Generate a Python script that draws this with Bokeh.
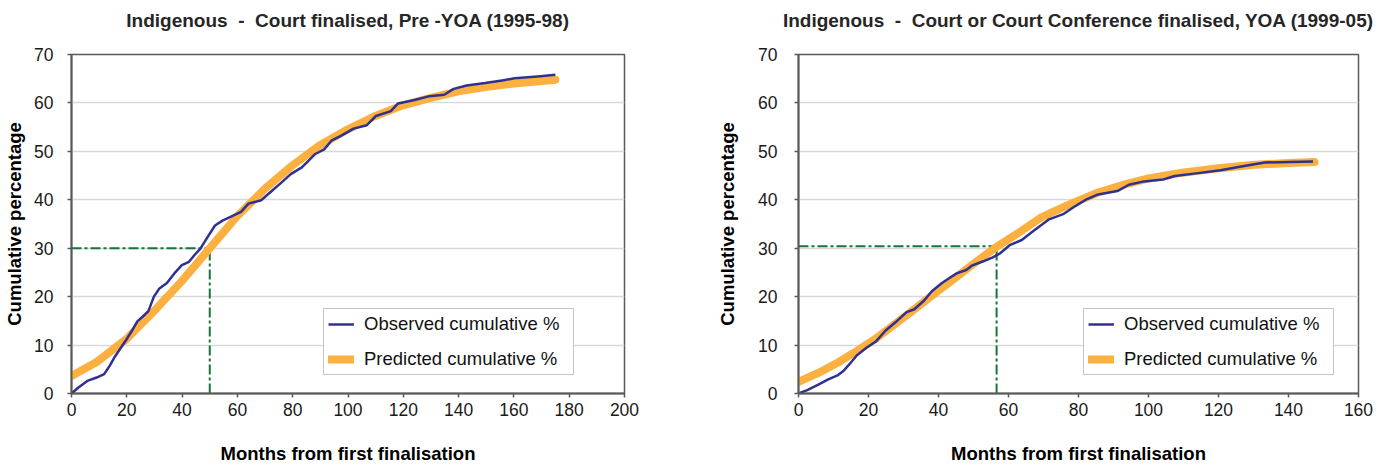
from bokeh.plotting import figure
from bokeh.layouts import row
from bokeh.models import FixedTicker, Title
from bokeh.embed import file_html
from bokeh.resources import INLINE

# ---------------- data: left chart (Pre-YOA 1995-98) ----------------
left_title = "Indigenous \u00a0-\u00a0 Court finalised, Pre -YOA (1995-98)"
left_obs_month = [0, 2.4, 5.7, 9.1, 11.8, 13.8, 15.8, 17.8, 19.8, 21.8, 23.8, 25.8, 27.8,
                  29.8, 31.8, 34.5, 37.2, 39.9, 42.5, 44.5, 46.6, 49.2, 51.9, 54.6, 57.3,
                  61.3, 64, 68.6, 72, 76, 79.3, 83.3, 88, 91.4, 94, 97.4, 102, 106.8,
                  110.1, 115.5, 118.1, 124.1, 129.5, 134.8, 138.2, 142.9, 149.6, 156.3,
                  160.3, 169.6, 175]
left_obs_pct = [0, 1.2, 2.6, 3.3, 4.0, 5.7, 7.7, 9.4, 11.1, 12.9, 14.9, 15.9, 17.0,
                20.0, 21.7, 22.8, 24.8, 26.5, 27.2, 28.6, 29.9, 32.3, 34.7, 35.7, 36.4,
                37.5, 39.2, 39.9, 41.6, 43.6, 45.3, 46.7, 49.4, 50.4, 52.2, 53.2, 54.7,
                55.4, 57.3, 58.3, 59.9, 60.6, 61.4, 61.7, 62.9, 63.6, 64.1, 64.7,
                65.1, 65.5, 65.8]
left_pred_month = [0, 9.1, 19.8, 29.8, 39.9, 49.9, 59.9, 70, 79.7, 89.4, 99.8, 109.4,
                   119.9, 129.5, 139.9, 149.6, 160, 175]
left_pred_pct = [3.6, 6.5, 11.2, 17.0, 23.2, 29.9, 36.6, 42.3, 47.0, 51.1, 54.5, 57.2,
                 59.5, 61.0, 62.4, 63.3, 64.0, 64.8]
left_median_month = [50.0]
left_median_pct = [30.0]
left_xticks = [0, 20, 40, 60, 80, 100, 120, 140, 160, 180, 200]

# ---------------- data: right chart (YOA 1999-05) ----------------
right_title = "Indigenous \u00a0-\u00a0 Court or Court Conference finalised, YOA (1999-05)"
right_obs_month = [0, 2.5, 5.8, 8.5, 11.3, 12.9, 14.5, 16.7, 19.5, 22.2, 24.9, 27.7,
                   30.9, 33.1, 35.9, 38.1, 40.8, 43, 45.2, 47.9, 49.5, 52.8, 55.5, 57.7,
                   60.5, 63.8, 67, 71.4, 75.8, 79.1, 82.3, 85.6, 91.1, 94.4, 98.7, 104.2,
                   107.5, 113, 120.6, 126.1, 133.2, 140.4, 147]
right_obs_pct = [0, 0.7, 1.9, 2.9, 3.8, 4.7, 6.0, 7.9, 9.5, 10.8, 13.0, 14.7,
                 16.8, 17.4, 19.2, 21.1, 22.7, 23.8, 24.8, 25.5, 26.4, 27.3, 28.1, 29.0,
                 30.7, 31.7, 33.5, 35.9, 37.1, 38.7, 40.1, 41.1, 41.8, 43.1, 43.8, 44.2,
                 44.9, 45.4, 46.1, 46.8, 47.7, 47.8, 47.9]
right_pred_month = [0, 5.8, 11.3, 16.7, 22.2, 27.7, 33.1, 38.6, 44.1, 49.5, 56.6, 62.7,
                    69.2, 76.9, 85.6, 93.3, 100, 109.7, 120, 129.4, 140, 147.4]
right_pred_pct = [2.4, 4.3, 6.4, 8.8, 11.4, 14.4, 17.4, 20.5, 23.5, 26.5, 30.3, 33.1,
                  36.3, 38.9, 41.5, 43.2, 44.4, 45.6, 46.5, 47.2, 47.6, 47.8]
right_median_month = [56.6]
right_median_pct = [30.4]
right_xticks = [0, 20, 40, 60, 80, 100, 120, 140, 160]

yticks = [0, 10, 20, 30, 40, 50, 60, 70]
x_label = "Months from first finalisation"
y_label = "Cumulative percentage"
obs_label = "Observed cumulative %"
pred_label = "Predicted cumulative %"

FONT = "Liberation Sans"
OBS_COLOR = "#2E3192"
PRED_COLOR = "#FBB040"
MED_COLOR = "#17753A"


def make_fig(title, xticks, obs_x, obs_y, pred_x, pred_y, med_x, med_y, width, height,
             mb_left, mb_right, mb_top, mb_bottom, ytick_standoff, ylab_standoff,
             xlab_standoff, legend_loc):
    p = figure(width=width, height=height, x_range=(xticks[0], xticks[-1]),
               y_range=(yticks[0], yticks[-1]), output_backend="svg",
               toolbar_location=None, min_border_left=mb_left,
               min_border_right=mb_right, min_border_top=mb_top,
               min_border_bottom=mb_bottom)
    p.background_fill_color = "white"
    p.border_fill_color = "white"
    p.outline_line_color = "#595959"
    p.outline_line_width = 1.5

    # blank (white) spacer panel between the frame and the title
    p.add_layout(Title(text=" ", text_font_size="1px", text_color="#ffffff",
                       standoff=21), "above")
    p.add_layout(Title(text=title, text_font=FONT, text_font_size="19px",
                       text_font_style="bold", text_color="#262626", align="center",
                       vertical_align="bottom", standoff=0), "above")

    p.xgrid.visible = False
    p.ygrid.grid_line_color = "#D9D9D9"
    p.ygrid.grid_line_width = 1.5

    for ax in (p.xaxis[0], p.yaxis[0]):
        ax.axis_line_color = "#595959"
        ax.axis_line_width = 2
        ax.major_tick_line_color = "#595959"
        ax.major_tick_line_width = 1.5
        ax.major_tick_out = 4
        ax.major_tick_in = 0
        ax.minor_tick_line_color = None
        ax.major_label_text_font = FONT
        ax.major_label_text_font_size = "17.5px"
        ax.major_label_text_color = "#1a1a1a"
        ax.axis_label_text_font = FONT
        ax.axis_label_text_font_size = "18.5px"
        ax.axis_label_text_font_style = "bold"
        ax.axis_label_text_color = "#000000"

    p.xaxis.ticker = FixedTicker(ticks=xticks)
    p.yaxis.ticker = FixedTicker(ticks=yticks)
    p.xaxis.axis_label = x_label
    p.yaxis.axis_label = y_label
    p.xaxis.major_label_standoff = 5
    p.xaxis.axis_label_standoff = xlab_standoff
    p.yaxis.major_label_standoff = ytick_standoff
    p.yaxis.axis_label_standoff = ylab_standoff

    # median guide lines (built from the median arrays)
    p.line([xticks[0], med_x[0]], [med_y[0], med_y[0]], line_color=MED_COLOR,
           line_width=2, line_dash="10 3 3 3")
    p.line([med_x[0], med_x[0]], [yticks[0], med_y[0]], line_color=MED_COLOR,
           line_width=2, line_dash="10 3 3 3")

    p.line(pred_x, pred_y, line_color=PRED_COLOR, line_width=8, line_cap="round",
           line_join="round", legend_label=pred_label)
    p.line(obs_x, obs_y, line_color=OBS_COLOR, line_width=2.5, line_join="round",
           legend_label=obs_label)

    lg = p.legend[0]
    lg.items = [lg.items[1], lg.items[0]]
    lg.location = legend_loc
    lg.label_text_font = FONT
    lg.label_text_font_size = "18.5px"
    lg.label_text_color = "#111111"
    lg.border_line_color = "#8c8c8c"
    lg.border_line_width = 1.5
    lg.background_fill_alpha = 1.0
    lg.padding = 4
    lg.spacing = 13
    lg.margin = 0
    lg.glyph_width = 26
    lg.glyph_height = 20
    lg.label_height = 20
    lg.label_width = 205
    lg.label_standoff = 10
    return p


H = 467
left = make_fig(left_title, left_xticks, left_obs_month, left_obs_pct, left_pred_month,
                left_pred_pct, left_median_month, left_median_pct, 700, H,
                71, 76, 54, 74, 14, 6, 24, (252, 18))
right = make_fig(right_title, right_xticks, right_obs_month, right_obs_pct,
                 right_pred_month, right_pred_pct, right_median_month,
                 right_median_pct, 680, H, 98, 22, 54, 74, 17, 17, 24, (285, 18))

layout = row(left, right)
open("out.html", "w").write(file_html(layout, INLINE))
